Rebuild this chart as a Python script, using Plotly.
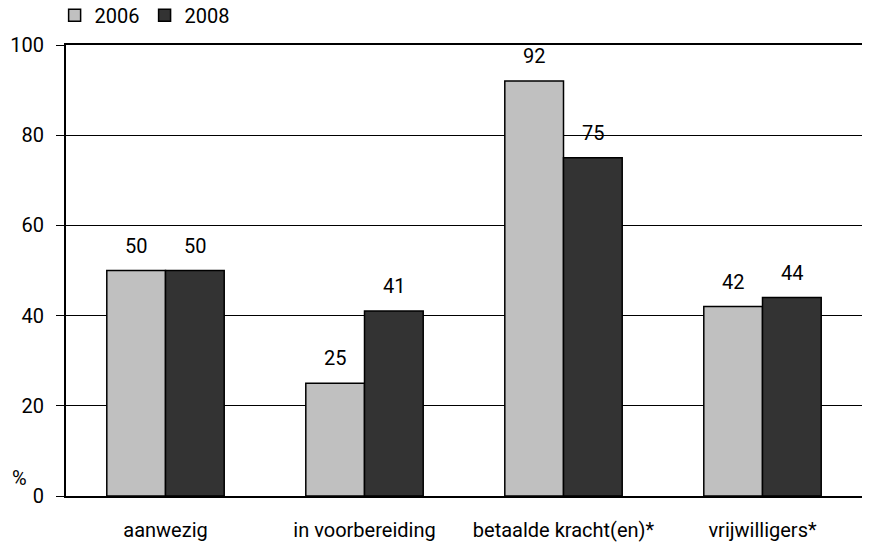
import plotly.graph_objects as go

categories = ['aanwezig', 'in voorbereiding', 'betaalde kracht(en)*', 'vrijwilligers*']
values_2006 = [50, 25, 92, 42]
values_2008 = [50, 41, 75, 44]
y_ticks = [0, 20, 40, 60, 80, 100]

FONT = 'Roboto, sans-serif'
BARGAP = 0.41

fig = go.Figure()
fig.add_trace(go.Bar(
    x=categories, y=values_2006, name='2006',
    marker=dict(color='#c0c0c0', line=dict(color='black', width=1.5)),
))
fig.add_trace(go.Bar(
    x=categories, y=values_2008, name='2008',
    marker=dict(color='#333333', line=dict(color='black', width=1.5)),
))

# value labels above the bars
plot_w = 869 - 66 - 7
half = plot_w / len(categories) * (1 - BARGAP) / 4
for vals, shift in ((values_2006, -half), (values_2008, half)):
    for c, v in zip(categories, vals):
        fig.add_annotation(
            x=c, y=v, text=str(v), showarrow=False,
            xshift=shift, yshift=11, yanchor='bottom',
            font=dict(family=FONT, size=20, color='black'),
        )

fig.add_annotation(
    x=-0.058, y=0.04, xref='paper', yref='paper', text='%',
    showarrow=False, xanchor='center', yanchor='middle',
    font=dict(family=FONT, size=20, color='black'),
)

fig.update_layout(
    width=869, height=547,
    margin=dict(l=66, r=7, t=45, b=51, autoexpand=False),
    barmode='group', bargap=BARGAP, bargroupgap=0,
    plot_bgcolor='white', paper_bgcolor='white',
    font=dict(family=FONT, size=20, color='black'),
    showlegend=True,
    legend=dict(orientation='h', x=-0.0143, y=1.066, xanchor='left', yanchor='middle',
                font=dict(family=FONT, size=20), itemwidth=30,
                traceorder='normal', tracegroupgap=0),
    xaxis=dict(
        showline=True, linecolor='black', linewidth=2, mirror=True,
        ticks='', ticklabelstandoff=15, showgrid=False,
    ),
    yaxis=dict(
        range=[0, 100], tickvals=y_ticks,
        showline=True, linecolor='black', linewidth=2,
        ticks='outside', ticklen=8, tickwidth=1, tickcolor='black',
        ticklabelstandoff=8,
        showgrid=True, gridcolor='black', gridwidth=1, zeroline=False,
    ),
)

# drop the default 8px body margin so the figure fills the window
fig.write_html('out.html', config={'displayModeBar': False},
               post_script="document.body.style.margin = '0';")
